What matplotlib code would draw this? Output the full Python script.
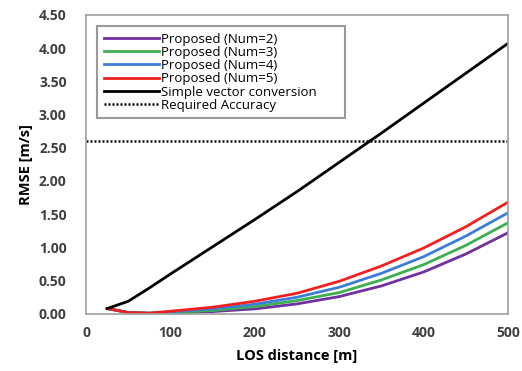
import matplotlib
matplotlib.use("Agg")
import matplotlib.pyplot as plt

# Data
dist = [25, 50, 75, 100, 150, 200, 250, 300, 350, 400, 450, 500]
num2 = [0.08, 0.02, 0.01, 0.015, 0.035, 0.075, 0.15, 0.26, 0.42, 0.63, 0.90, 1.22]
num3 = [0.08, 0.02, 0.01, 0.02, 0.05, 0.11, 0.20, 0.32, 0.51, 0.74, 1.03, 1.37]
num4 = [0.08, 0.02, 0.01, 0.03, 0.075, 0.145, 0.25, 0.40, 0.61, 0.86, 1.17, 1.52]
num5 = [0.08, 0.02, 0.01, 0.04, 0.10, 0.19, 0.31, 0.49, 0.72, 0.99, 1.31, 1.68]
simple = [0.08, 0.19, 0.39, 0.60, 1.01, 1.42, 1.84, 2.28, 2.72, 3.17, 3.62, 4.07]
required = 2.6

plt.rcParams['font.family'] = ['Open Sans', 'DejaVu Sans']

fig = plt.figure(figsize=(5.22, 3.71), dpi=100)
ax = fig.add_axes([0.165, 0.154, 0.808, 0.806])

ax.plot(dist, num2, color='#7030A0', lw=2, label='Proposed (Num=2)')
ax.plot(dist, num3, color='#3CB050', lw=2, label='Proposed (Num=3)')
ax.plot(dist, num4, color='#3B7DD8', lw=2, label='Proposed (Num=4)')
ax.plot(dist, num5, color='#F02020', lw=2, label='Proposed (Num=5)')
ax.plot(dist, simple, color='black', lw=2, label='Simple vector conversion')
ax.axhline(required, color='black', lw=1.8, ls=(0, (0.8, 0.8)), label='Required Accuracy')

ax.set_xlim(0, 500)
ax.set_ylim(0, 4.5)
ax.set_xticks([0, 100, 200, 300, 400, 500])
ax.set_yticks([0, 0.5, 1, 1.5, 2, 2.5, 3, 3.5, 4, 4.5])
ax.set_yticklabels([f"{v:.2f}" for v in ax.get_yticks()])
ax.tick_params(length=0, labelsize=10, colors='#404040')
ax.tick_params(axis='y', pad=14)
ax.tick_params(axis='x', pad=9)
for lab in ax.get_xticklabels() + ax.get_yticklabels():
    lab.set_fontweight('bold')

for s in ax.spines.values():
    s.set_color('#A0A0A0')
    s.set_linewidth(1.2)

ax.set_xlabel("LOS distance [m]", fontsize=10.5, fontweight='bold', labelpad=6)
ax.set_ylabel("RMSE [m/s]", fontsize=10.5, fontweight='bold', labelpad=4)

leg = ax.legend(loc='upper left', bbox_to_anchor=(0.026, 0.963, 0.588, 0.0), mode='expand',
                fontsize=9.5, frameon=True, fancybox=False, handlelength=4.2,
                handletextpad=0.15, labelspacing=0.02, borderpad=0.5, borderaxespad=0)
leg.get_frame().set_edgecolor('#808080')
leg.get_frame().set_linewidth(1.5)

fig.savefig("out.png", dpi=100)
